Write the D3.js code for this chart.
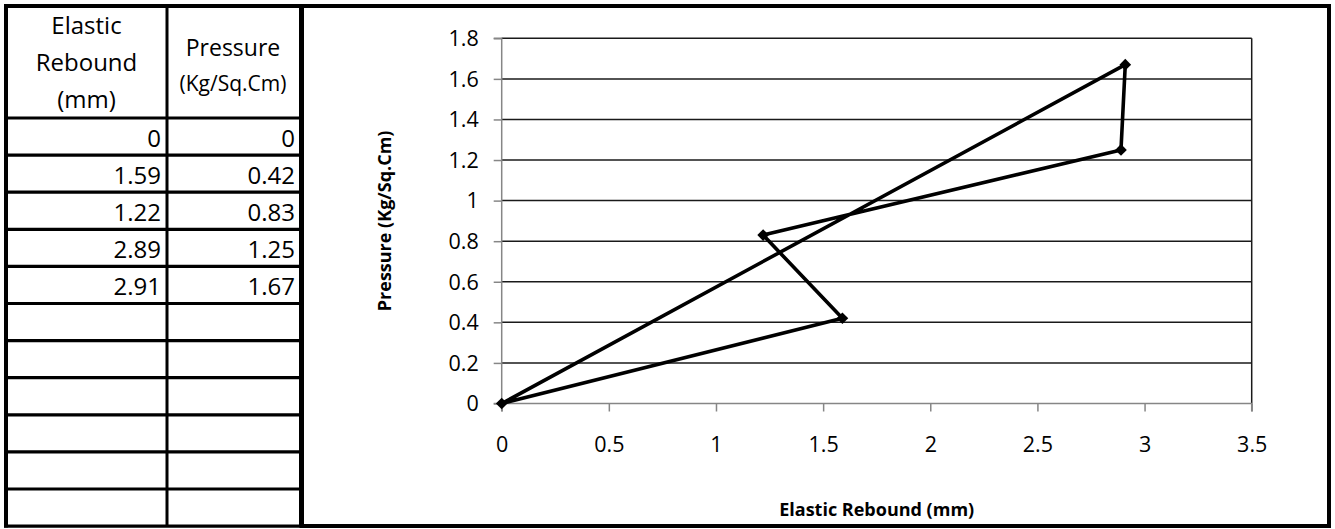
<!DOCTYPE html>
<html>
<head>
<meta charset="utf-8">
<script src="https://cdn.jsdelivr.net/npm/d3@7/dist/d3.min.js"></script>
<style>
  html, body { margin: 0; padding: 0; background: #fff; }
  svg { display: block; }
  text { font-family: "Open Sans", "DejaVu Sans", sans-serif; fill: #000; }
</style>
</head>
<body>
<svg id="chart" width="1335" height="529"></svg>
<script>
// ---- data ----
const elasticRebound = [0, 1.59, 1.22, 2.89, 2.91];
const pressure = [0, 0.42, 0.83, 1.25, 1.67];
const xTicks = [0, 0.5, 1, 1.5, 2, 2.5, 3, 3.5];
const yTicks = [0, 0.2, 0.4, 0.6, 0.8, 1, 1.2, 1.4, 1.6, 1.8];
const colHeaders = [["Elastic", "Rebound", "(mm)"], ["Pressure", "(Kg/Sq.Cm)"]];
const emptyRows = 6;
const xTitle = "Elastic Rebound (mm)";
const yTitle = "Pressure (Kg/Sq.Cm)";

const svg = d3.select("#chart");

// ---- table ----
const tbl = { left: 6, mid: 167, right: 301, top: 6, headerBottom: 118, rowH: 37.1 };
const nRows = elasticRebound.length + emptyRows;
const rowY = d3.scaleLinear().domain([0, nRows]).range([tbl.headerBottom, tbl.headerBottom + nRows * tbl.rowH]);
const tg = svg.append("g");
const hLines = [tbl.top].concat(d3.range(nRows + 1).map(i => rowY(i)));
tg.selectAll("line.h").data(hLines).join("line")
  .attr("x1", tbl.left - 2).attr("x2", tbl.right + 2)
  .attr("y1", d => d).attr("y2", d => d)
  .attr("stroke", "#000").attr("stroke-width", (d, i) => i === 0 ? 4 : 3.2);
const bottomY = rowY(nRows);
tg.append("line").attr("x1", tbl.left).attr("x2", tbl.left).attr("y1", tbl.top - 2).attr("y2", bottomY + 1.5)
  .attr("stroke", "#000").attr("stroke-width", 4);
tg.append("line").attr("x1", tbl.mid).attr("x2", tbl.mid).attr("y1", tbl.top).attr("y2", bottomY)
  .attr("stroke", "#000").attr("stroke-width", 3);
tg.append("line").attr("x1", tbl.right).attr("x2", tbl.right).attr("y1", tbl.top - 2).attr("y2", bottomY + 1.5)
  .attr("stroke", "#000").attr("stroke-width", 4);

// headers
tg.append("text").attr("text-anchor", "middle")
  .style("font-size", "24px")
  .selectAll("tspan").data(colHeaders[0]).join("tspan")
  .attr("x", (tbl.left + tbl.mid) / 2).attr("y", (d, i) => 34 + i * 37).text(d => d);
tg.append("text").attr("x", (tbl.mid + tbl.right) / 2 - 1).attr("y", 56).attr("text-anchor", "middle")
  .style("font-size", "23px").text(colHeaders[1][0]);
tg.append("text").attr("x", (tbl.mid + tbl.right) / 2 - 1).attr("y", 91).attr("text-anchor", "middle")
  .style("font-size", "21px").text(colHeaders[1][1]);
// values
tg.selectAll("text.c1").data(elasticRebound).join("text").attr("class", "c1")
  .attr("x", tbl.mid - 6).attr("y", (d, i) => rowY(i) + 29).attr("text-anchor", "end")
  .style("font-size", "24px").text(d => d);
tg.selectAll("text.c2").data(pressure).join("text").attr("class", "c2")
  .attr("x", tbl.right - 6).attr("y", (d, i) => rowY(i) + 29).attr("text-anchor", "end")
  .style("font-size", "24px").text(d => d);

// ---- chart frame ----
svg.append("rect").attr("x", 302).attr("y", 6).attr("width", 1027).attr("height", 520)
  .attr("fill", "none").attr("stroke", "#000").attr("stroke-width", 4);

// ---- plot ----
const x = d3.scaleLinear().domain([0, 3.5]).range([501.7, 1251.7]);
const y = d3.scaleLinear().domain([0, 1.8]).range([403.5, 38.3]);
const pg = svg.append("g");

pg.selectAll("line.grid").data(yTicks.filter(d => d > 0)).join("line")
  .attr("x1", x(0)).attr("x2", x(3.5))
  .attr("y1", d => y(d)).attr("y2", d => y(d))
  .attr("stroke", "#1a1a1a").attr("stroke-width", 1.5);
pg.append("line").attr("x1", x(3.5)).attr("x2", x(3.5)).attr("y1", y(1.8)).attr("y2", y(0))
  .attr("stroke", "#1a1a1a").attr("stroke-width", 1.5);

const xAxis = d3.axisBottom(x).tickValues(xTicks).tickSize(8).tickPadding(12).tickFormat(d3.format("~g"));
const yAxis = d3.axisLeft(y).tickValues(yTicks).tickSize(8).tickPadding(15).tickFormat(d3.format("~g"));
const gx = pg.append("g").attr("transform", `translate(0,${y(0)})`).call(xAxis);
const gy = pg.append("g").attr("transform", `translate(${x(0)},0)`).call(yAxis);
[gx, gy].forEach(g => {
  g.attr("font-size", null).attr("font-family", null);
  g.select(".domain").attr("stroke", "#868686").attr("stroke-width", 1.5);
  g.selectAll(".tick line").attr("stroke", "#868686").attr("stroke-width", 1.5);
  g.selectAll(".tick text").style("font-family", '"Open Sans", sans-serif').style("font-size", "21.5px").attr("fill", "#000");
});
gx.selectAll(".tick text").attr("y", 48).attr("dy", null);
gy.selectAll(".tick text").attr("dy", "0.34em");
gy.select(".domain").attr("d", `M-8,${y(1.8)}H0V${y(0)}H-8`);
gx.select(".domain").attr("d", `M${x(0)},8V0H${x(3.5)}V8`);

// series line (closed loop back to origin)
const pts = elasticRebound.map((d, i) => [d, pressure[i]]);
const line = d3.line().x(d => x(d[0])).y(d => y(d[1])).curve(d3.curveLinearClosed);
pg.append("path").datum(pts).attr("d", line)
  .attr("fill", "none").attr("stroke", "#000").attr("stroke-width", 3.6).attr("stroke-linejoin", "round");
pg.selectAll("path.pt").data(pts).join("path").attr("class", "pt")
  .attr("d", d3.symbol().type(d3.symbolSquare).size(68))
  .attr("transform", d => `translate(${x(d[0])},${y(d[1])}) rotate(45)`)
  .attr("fill", "#000");

// titles
svg.append("text").attr("x", (x(0) + x(3.5)) / 2).attr("y", 516).attr("text-anchor", "middle")
  .style("font-size", "18px").style("font-weight", "bold").text(xTitle);
svg.append("text").attr("transform", `translate(391,${(y(0) + y(1.8)) / 2}) rotate(-90)`)
  .attr("text-anchor", "middle")
  .style("font-size", "18px").style("font-weight", "bold").text(yTitle);
</script>
</body>
</html>
